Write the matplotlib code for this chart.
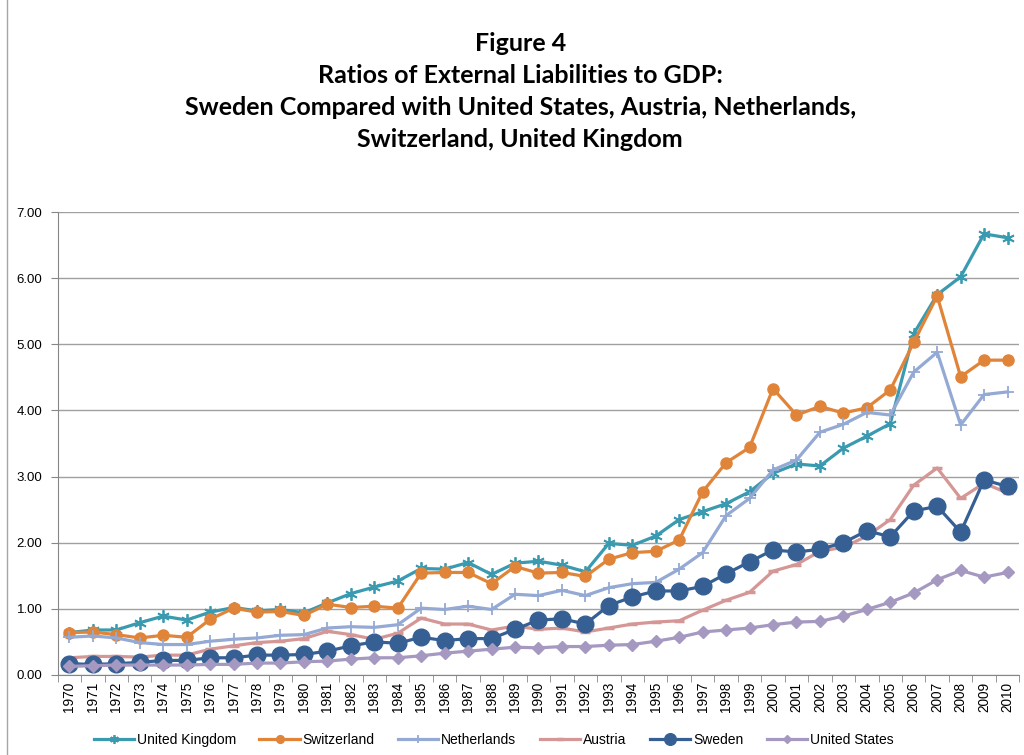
import numpy as np
import matplotlib
matplotlib.use("Agg")
import matplotlib.pyplot as plt
from matplotlib.patches import Rectangle

years = [str(y) for y in range(1970, 2011)]

uk = [0.64, 0.68, 0.68, 0.79, 0.89, 0.83, 0.95, 1.02, 0.97, 0.99, 0.94, 1.09, 1.23, 1.33,
      1.42, 1.61, 1.60, 1.70, 1.52, 1.69, 1.72, 1.66, 1.56, 1.99, 1.96, 2.10, 2.35, 2.47,
      2.59, 2.77, 3.05, 3.19, 3.16, 3.43, 3.61, 3.80, 5.16, 5.75, 6.02, 6.67, 6.61]
switzerland = [0.64, 0.65, 0.61, 0.56, 0.60, 0.57, 0.84, 1.01, 0.95, 0.96, 0.90, 1.07, 1.02,
               1.04, 1.01, 1.54, 1.55, 1.55, 1.38, 1.64, 1.54, 1.55, 1.49, 1.75, 1.85, 1.87,
               2.04, 2.77, 3.21, 3.44, 4.33, 3.93, 4.06, 3.96, 4.04, 4.31, 5.03, 5.73, 4.51,
               4.76, 4.76]
netherlands = [0.57, 0.59, 0.56, 0.49, 0.46, 0.46, 0.51, 0.54, 0.56, 0.60, 0.61, 0.71, 0.73,
               0.72, 0.76, 1.01, 0.99, 1.04, 0.99, 1.22, 1.20, 1.28, 1.20, 1.32, 1.38, 1.40,
               1.60, 1.85, 2.41, 2.67, 3.10, 3.25, 3.67, 3.79, 3.97, 3.93, 4.58, 4.88, 3.78,
               4.24, 4.28]
austria = [0.26, 0.28, 0.28, 0.27, 0.30, 0.30, 0.39, 0.44, 0.49, 0.51, 0.55, 0.66, 0.61, 0.54,
           0.63, 0.86, 0.77, 0.77, 0.68, 0.74, 0.69, 0.71, 0.65, 0.71, 0.77, 0.80, 0.82, 0.98,
           1.13, 1.25, 1.57, 1.67, 1.87, 1.93, 2.10, 2.35, 2.87, 3.13, 2.67, 2.90, 2.75]
sweden = [0.17, 0.16, 0.17, 0.19, 0.22, 0.22, 0.26, 0.26, 0.30, 0.30, 0.31, 0.36, 0.44, 0.50,
          0.48, 0.57, 0.52, 0.55, 0.55, 0.69, 0.83, 0.85, 0.77, 1.05, 1.18, 1.27, 1.27, 1.34,
          1.53, 1.71, 1.89, 1.86, 1.90, 2.00, 2.18, 2.09, 2.48, 2.55, 2.16, 2.95, 2.85]
us = [0.13, 0.14, 0.15, 0.15, 0.15, 0.15, 0.16, 0.16, 0.18, 0.18, 0.20, 0.21, 0.24, 0.26,
      0.26, 0.29, 0.33, 0.36, 0.39, 0.42, 0.41, 0.43, 0.43, 0.45, 0.46, 0.51, 0.57, 0.65,
      0.68, 0.71, 0.76, 0.80, 0.81, 0.89, 0.99, 1.10, 1.24, 1.44, 1.58, 1.48, 1.55]

title = ("Figure 4\nRatios of External Liabilities to GDP:\n"
         "Sweden Compared with United States, Austria, Netherlands,\n"
         "Switzerland, United Kingdom")

plt.rcParams['font.family'] = ['Liberation Sans', 'DejaVu Sans']

fig = plt.figure(figsize=(10.24, 7.55), dpi=100)
fig.patches.append(Rectangle((0.007, -0.01), 1.2, 1.2, transform=fig.transFigure,
                             fill=False, edgecolor='#a6a6a6', lw=1))
ax = fig.add_axes([0.0563, 0.106, 0.9391, 0.6132])

x = np.arange(len(years))
lw = 2.3
ax.plot(x, uk, color='#3a9ab0', lw=lw, marker=(6, 2, 0), ms=9, mew=1.3,
        label='United Kingdom')
ax.plot(x, switzerland, color='#e0843a', lw=lw, marker='o', ms=8,
        label='Switzerland')
ax.plot(x, netherlands, color='#94a9d4', lw=lw, marker='+', ms=9, mew=1.3,
        label='Netherlands')
ax.plot(x, austria, color='#d49795', lw=lw, marker='_', ms=7, mew=2.5,
        label='Austria')
ax.plot(x, sweden, color='#366094', lw=lw, marker='o', ms=12,
        label='Sweden')
ax.plot(x, us, color='#a598c1', lw=lw, marker='D', ms=6.5,
        label='United States')

ax.set_xlim(-0.5, len(years) - 0.5)
ax.set_ylim(0, 7)
ax.set_yticks(np.arange(0, 8, 1))
ax.set_yticklabels(['%.2f' % v for v in range(8)], fontsize=9.5)
ax.set_xticks(x)
ax.set_xticklabels(years, rotation=90, fontsize=9.8)
ax.set_xticks(np.arange(-0.5, len(years), 1), minor=True)
ax.tick_params(axis='x', which='major', length=0, pad=5)
ax.tick_params(axis='x', which='minor', length=5, color='#868686')
ax.tick_params(axis='y', length=5, color='#868686', pad=6)
ax.grid(axis='y', color='#a0a0a0', lw=1)
ax.set_axisbelow(True)
for s in ['top', 'right']:
    ax.spines[s].set_visible(False)
ax.spines['left'].set_color('#868686')
ax.spines['bottom'].set_color('#868686')

fig.text(0.508, 0.958, title, ha='center', va='top', fontsize=18, fontweight='bold',
         family=['Lato', 'DejaVu Sans'], linespacing=1.48)

fig.legend(loc='center', bbox_to_anchor=(0.482, 0.02), ncol=6, frameon=False,
           fontsize=10, handlelength=2.9, columnspacing=1.7, handletextpad=0.2,
           markerscale=0.7)

fig.savefig('out.png', dpi=100)
